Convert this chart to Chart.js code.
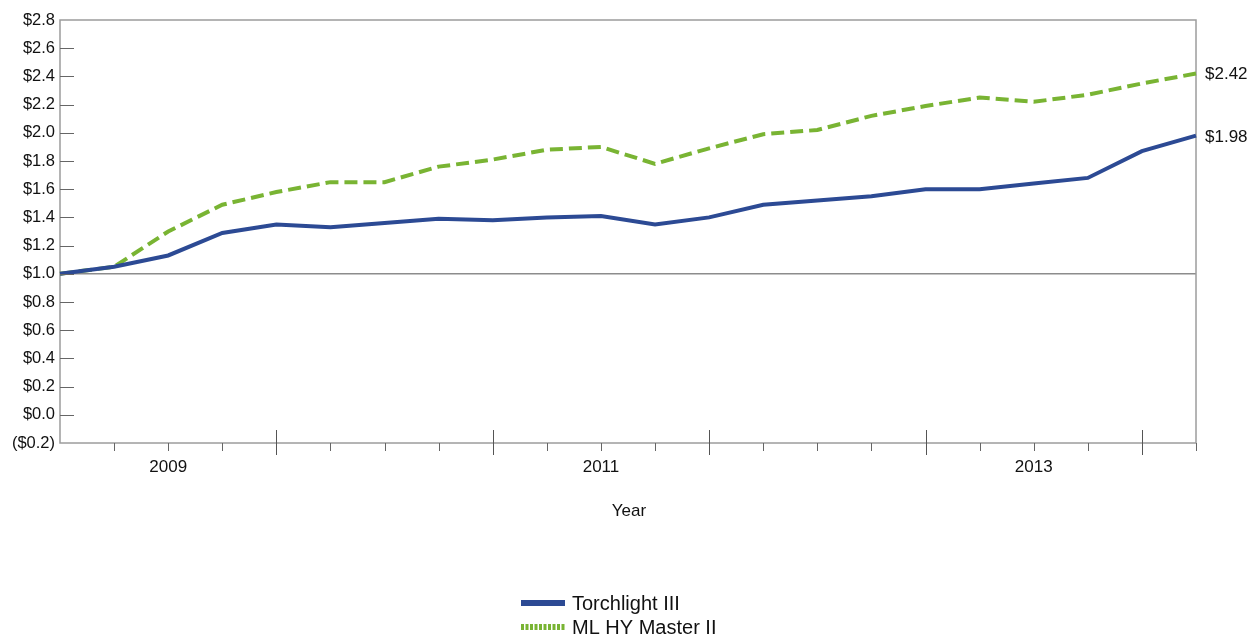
<!DOCTYPE html>
<html>
<head>
<meta charset="utf-8">
<script src="https://cdn.jsdelivr.net/npm/chart.js@4"></script>
<style>
  html, body { margin: 0; padding: 0; background: #fff; }
  canvas { display: block; }
</style>
</head>
<body>
<canvas id="grafico" width="1255" height="638"></canvas>
<script>
// quarter ends, Dec-08 .. Mar-14
const quarters = ['Dec-08', 'Mar-09', 'Jun-09', 'Sep-09', 'Dec-09', 'Mar-10', 'Jun-10', 'Sep-10',
  'Dec-10', 'Mar-11', 'Jun-11', 'Sep-11', 'Dec-11', 'Mar-12', 'Jun-12', 'Sep-12',
  'Dec-12', 'Mar-13', 'Jun-13', 'Sep-13', 'Dec-13', 'Mar-14'];
const yearLabels = ['2009', '2011', '2013'];

const torchlight = [1.00, 1.05, 1.13, 1.29, 1.35, 1.33, 1.36, 1.39, 1.38, 1.40, 1.41, 1.35,
  1.40, 1.49, 1.52, 1.55, 1.60, 1.60, 1.64, 1.68, 1.87, 1.98];
const mlHY = [1.00, 1.05, 1.30, 1.49, 1.58, 1.65, 1.65, 1.76, 1.81, 1.88, 1.90, 1.78,
  1.89, 1.99, 2.02, 2.12, 2.19, 2.25, 2.22, 2.27, 2.35, 2.42];

const seriesNames = ['Torchlight III', 'ML HY Master II'];
const azul = '#2c4a94';
const verde = '#79b433';
const fonte = '"Liberation Sans", Arial, sans-serif';

function moeda(v) {
  return v < 0 ? '($' + Math.abs(v).toFixed(1) + ')' : '$' + v.toFixed(1);
}

function linha(ctx, x1, y1, x2, y2) {
  ctx.beginPath();
  ctx.moveTo(x1, y1);
  ctx.lineTo(x2, y2);
  ctx.stroke();
}

// moldura, marcas dos eixos, rótulos finais, título e legenda
const extras = {
  id: 'extras',
  beforeDatasetsDraw(chart) {
    const { ctx, chartArea: a } = chart;
    ctx.save();
    ctx.strokeStyle = '#9c9c9c';
    ctx.lineWidth = 1.5;
    ctx.strokeRect(a.left, a.top, a.right - a.left, a.bottom - a.top);
    ctx.restore();
  },
  afterDraw(chart) {
    const { ctx, chartArea: a, scales: { x, y } } = chart;
    ctx.save();

    // marcas do eixo y, para dentro
    ctx.strokeStyle = '#666';
    ctx.lineWidth = 1;
    y.ticks.forEach(t => {
      if (t.value >= 2.79 || t.value <= -0.19) return;
      const py = Math.round(y.getPixelForValue(t.value)) + 0.5;
      linha(ctx, a.left, py, a.left + 14, py);
    });

    // marcas do eixo x: longas no fim de cada ano
    quarters.forEach((q, i) => {
      if (i === 0) return;
      const px = Math.round(x.getPixelForValue(i)) + 0.5;
      if (q.startsWith('Dec')) {
        ctx.strokeStyle = '#555';
        linha(ctx, px, a.bottom - 13, px, a.bottom + 12);
      } else {
        ctx.strokeStyle = '#666';
        linha(ctx, px, a.bottom, px, a.bottom + 8);
      }
    });

    // valores finais
    ctx.fillStyle = '#111';
    ctx.font = '17px ' + fonte;
    ctx.textAlign = 'left';
    ctx.textBaseline = 'middle';
    const last = quarters.length - 1;
    ctx.fillText('$' + mlHY[last].toFixed(2), a.right + 9, y.getPixelForValue(mlHY[last]) + 1);
    ctx.fillText('$' + torchlight[last].toFixed(2), a.right + 9, y.getPixelForValue(torchlight[last]) + 2);

    // título do eixo x
    ctx.textAlign = 'center';
    ctx.fillText('Year', 629, 511);

    // legenda
    const cores = [azul, verde];
    ctx.textAlign = 'left';
    ctx.font = '20px ' + fonte;
    seriesNames.forEach((nome, k) => {
      const ly = 603 + k * 24;
      ctx.strokeStyle = cores[k];
      ctx.lineWidth = 6;
      ctx.setLineDash(k === 1 ? [3, 1.5] : []);
      linha(ctx, 521, ly, 565, ly);
      ctx.setLineDash([]);
      ctx.fillStyle = '#111';
      ctx.fillText(nome, 572, ly + 1);
    });

    ctx.restore();
  }
};

new Chart(document.getElementById('grafico').getContext('2d'), {
  type: 'line',
  data: {
    labels: quarters,
    datasets: [{
      label: seriesNames[0],
      data: torchlight,
      borderColor: azul,
      borderWidth: 4,
      pointRadius: 0,
      tension: 0
    }, {
      label: seriesNames[1],
      data: mlHY,
      borderColor: verde,
      borderWidth: 4,
      borderDash: [13, 6],
      pointRadius: 0,
      tension: 0
    }]
  },
  options: {
    responsive: false,
    animation: false,
    layout: { padding: { top: 20, right: 59, left: 0, bottom: 0 } },
    plugins: { legend: { display: false }, tooltip: { enabled: false } },
    scales: {
      x: {
        type: 'category',
        offset: false,
        grid: { display: false, drawTicks: false },
        border: { display: false },
        ticks: {
          autoSkip: false,
          maxRotation: 0,
          padding: 14,
          color: '#111',
          font: { family: fonte, size: 17 },
          callback: function (v, i) {
            const q = quarters[i];
            const ano = '20' + q.slice(4);
            return q.startsWith('Jun') && yearLabels.includes(ano) ? ano : '';
          }
        },
        afterFit: s => { s.height = 195; }
      },
      y: {
        min: -0.2,
        max: 2.8,
        grid: {
          drawTicks: false,
          color: c => Math.abs(c.tick.value - 1) < 1e-6 ? '#8c8c8c' : 'rgba(0,0,0,0)',
          lineWidth: 1.5
        },
        border: { display: false },
        ticks: {
          stepSize: 0.2,
          padding: 5,
          color: '#111',
          font: { family: fonte, size: 16.5 },
          callback: v => moeda(v)
        },
        afterFit: s => { s.width = 60; }
      }
    }
  },
  plugins: [extras]
});
</script>
</body>
</html>
